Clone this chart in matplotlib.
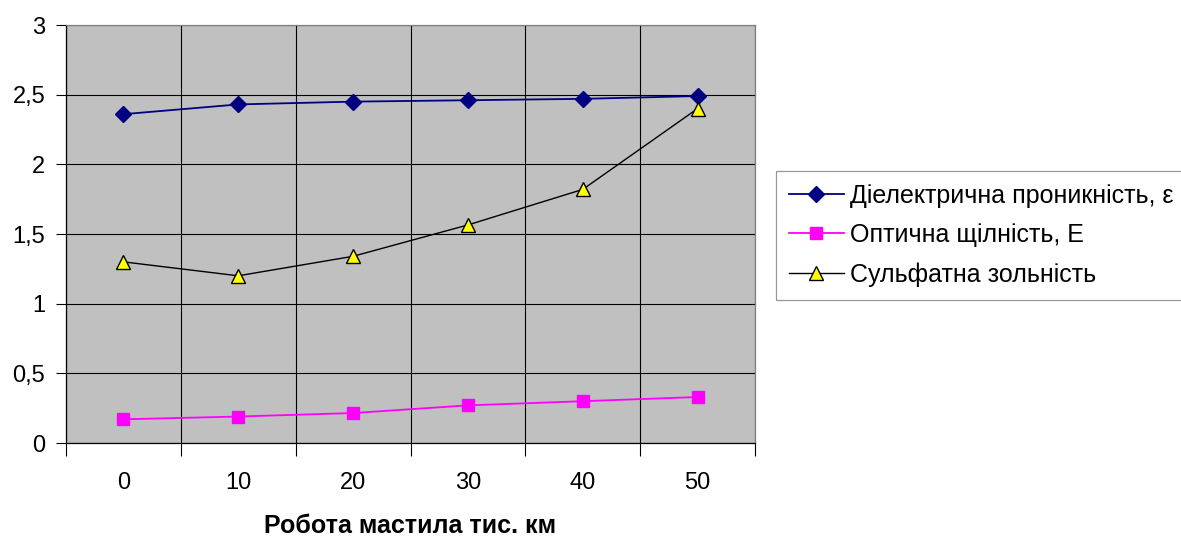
import matplotlib.pyplot as plt
from matplotlib.ticker import FuncFormatter, FixedLocator

plt.rcParams['font.family'] = ['Liberation Sans', 'DejaVu Sans']

categories = ["0", "10", "20", "30", "40", "50"]
dielectric = [2.36, 2.43, 2.45, 2.46, 2.47, 2.49]
optical = [0.17, 0.19, 0.215, 0.27, 0.30, 0.33]
sulfate = [1.30, 1.20, 1.34, 1.565, 1.82, 2.40]


def main():
    fig = plt.figure(figsize=(11.81, 5.36), dpi=100)
    ax = fig.add_axes([66 / 1181, 1 - 443 / 536, 689 / 1181, 418 / 536])
    ax.set_facecolor("#C0C0C0")

    x = list(range(len(categories)))
    ax.plot(x, dielectric, color="#000080", lw=1.3, marker="D", ms=8,
            mfc="#000080", mec="#000080", label="Діелектрична проникність, ε", zorder=3)
    ax.plot(x, optical, color="#FF00FF", lw=1.3, marker="s", ms=8,
            mfc="#FF00FF", mec="#FF00FF", label="Оптична щілність, Е", zorder=3)
    ax.plot(x, sulfate, color="black", lw=1.0, marker="^", ms=10,
            mfc="#FFFF00", mec="black", mew=1.0, label="Сульфатна зольність", zorder=3)

    ax.set_xlim(-0.5, len(categories) - 0.5)
    ax.set_ylim(0, 3)
    ax.set_yticks([0, 0.5, 1, 1.5, 2, 2.5, 3])
    ax.yaxis.set_major_formatter(FuncFormatter(lambda v, p: f"{v:g}".replace(".", ",")))

    ax.set_xticks(x)
    ax.set_xticklabels(categories)
    ax.tick_params(axis="x", which="major", length=0, pad=21, labelsize=17)
    ax.xaxis.set_minor_locator(FixedLocator([i - 0.5 for i in range(len(categories) + 1)]))
    ax.tick_params(axis="x", which="minor", length=9, width=0.8, color="black")
    ax.tick_params(axis="y", length=7, width=0.8, labelsize=17, pad=8)

    ax.grid(True, which="minor", axis="x", color="black", lw=0.8)
    ax.grid(True, which="major", axis="y", color="black", lw=0.8)
    ax.set_axisbelow(True)

    for s in ["top", "right"]:
        ax.spines[s].set_color("#808080")
    for s in ["left", "bottom"]:
        ax.spines[s].set_color("black")
    for s in ax.spines.values():
        s.set_linewidth(0.9)

    ax.set_xlabel("Робота мастила тис. км", fontsize=18, fontweight="bold", labelpad=14)

    leg = ax.legend(loc="upper left", bbox_to_anchor=(776 / 1181, 1 - 171 / 536),
                    bbox_transform=fig.transFigure, fontsize=18, frameon=True,
                    fancybox=False, edgecolor="#808080", handlelength=2.2,
                    handletextpad=0.25, borderpad=0.5, labelspacing=0.62, borderaxespad=0)
    leg.get_frame().set_linewidth(0.9)

    fig.savefig("out.png", dpi=100)


if __name__ == "__main__":
    main()
